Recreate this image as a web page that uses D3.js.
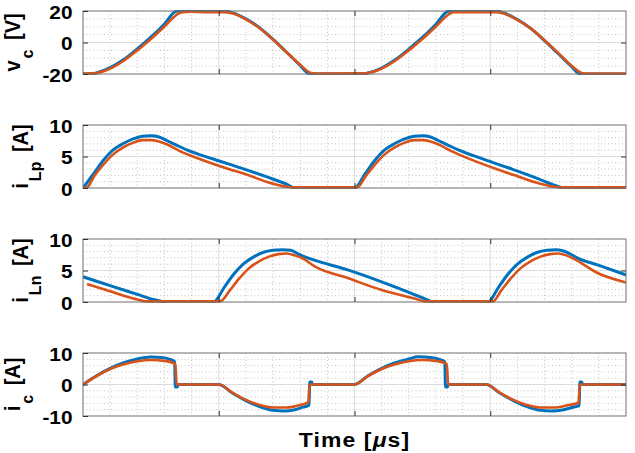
<!DOCTYPE html>
<html>
<head>
<meta charset="utf-8">
<script src="https://cdn.jsdelivr.net/npm/d3@7"></script>
<style>
body { margin: 0; background: #fff; }
text { font-family: "Liberation Sans", Arial, Helvetica, sans-serif; font-weight: bold; fill: #000; }
</style>
</head>
<body>
<svg id="chart" width="635" height="453"></svg>
<script>
// time axis has 4 major divisions and no tick labels
let timeDomain = [0, 4]
let timeMajor = [1, 2, 3]
let timeMinorStep = 0.2

let vcTicks = [-20, 0, 20]
let iLpTicks = [0, 5, 10]
let iLnTicks = [0, 5, 10]
let icTicks = [-10, 0, 10]

// [time, value]; blue = first series, orange = second
let vcBlue = [[0,-20],[0.06,-20],[0.1,-19.3],[0.2,-16],[0.3,-10.8],[0.4,-4],[0.5,3.4],[0.6,11.8],[0.68,19.6],[0.7,20],[1.04,20],[1.1,18.9],[1.2,15],[1.3,9.4],[1.4,2],[1.5,-6.2],[1.6,-14.6],[1.66,-19.6],[1.68,-20],[2.06,-20],[2.1,-19.4],[2.2,-16.2],[2.3,-11],[2.4,-4.2],[2.5,3.2],[2.6,11.6],[2.68,19.5],[2.7,20],[3.04,20],[3.1,18.7],[3.2,14.6],[3.3,8.8],[3.4,1.2],[3.5,-7],[3.6,-15.4],[3.65,-19.6],[3.67,-20],[4,-20]]
let vcOrange = [[0,-19.7],[0.08,-19.6],[0.1,-19.4],[0.2,-16.6],[0.3,-11.6],[0.4,-5],[0.5,2.2],[0.6,10.2],[0.7,18.2],[0.73,19.3],[0.8,19.5],[0.9,19.3],[1.04,19.3],[1.1,18.5],[1.2,14.7],[1.3,9.2],[1.4,1.9],[1.5,-6.2],[1.6,-14.2],[1.68,-19.4],[1.72,-19.7],[2.08,-19.6],[2.1,-19.4],[2.2,-16.6],[2.3,-11.6],[2.4,-5],[2.5,2.2],[2.6,10.2],[2.7,18.2],[2.73,19.3],[3.04,19.3],[3.1,18.4],[3.2,14.4],[3.3,8.8],[3.4,1.4],[3.5,-6.6],[3.6,-14.8],[3.68,-19.5],[3.72,-19.7],[4,-19.7]]

let iLpBlue = [[0,0],[0.08,2.3],[0.15,4.4],[0.22,6],[0.3,7.1],[0.37,7.8],[0.44,8.2],[0.5,8.3],[0.56,8.1],[0.62,7.5],[0.68,6.9],[0.76,6.1],[0.96,4.6],[1.16,3.2],[1.35,1.8],[1.5,0.6],[1.56,0],[2,0],[2.08,2.3],[2.15,4.4],[2.22,6],[2.3,7.1],[2.37,7.8],[2.44,8.2],[2.5,8.3],[2.56,8.1],[2.62,7.5],[2.68,6.9],[2.76,6.1],[2.96,4.5],[3.16,3],[3.35,1.5],[3.48,0.4],[3.54,0],[4,0]]
let iLpOrange = [[0,0],[0.03,0.1],[0.08,1.8],[0.15,3.7],[0.22,5.3],[0.3,6.5],[0.37,7.2],[0.44,7.6],[0.5,7.6],[0.56,7.4],[0.62,6.9],[0.71,5.9],[0.86,4.6],[1.06,3.1],[1.21,2.1],[1.35,1],[1.5,0.2],[1.55,0.1],[2.02,0.1],[2.08,1.8],[2.15,3.7],[2.22,5.3],[2.3,6.5],[2.37,7.2],[2.44,7.6],[2.5,7.6],[2.56,7.4],[2.62,6.9],[2.71,5.9],[2.86,4.5],[3.06,2.9],[3.21,1.8],[3.35,0.8],[3.47,0.2],[3.52,0.1],[4,0.1]]

let iLnBlue = [[0,4],[0.1,3.3],[0.2,2.6],[0.3,1.9],[0.4,1.2],[0.5,0.5],[0.59,0],[0.62,-0.3],[0.94,-0.3],[0.97,0],[1.04,2.3],[1.11,4.4],[1.18,6],[1.26,7.2],[1.33,7.9],[1.4,8.2],[1.47,8.3],[1.53,8.2],[1.58,7.7],[1.63,7.2],[1.71,6.6],[1.95,5.1],[2.2,3.2],[2.45,1.1],[2.57,0],[2.6,-0.3],[2.95,-0.3],[2.99,0],[3.06,2.3],[3.13,4.4],[3.2,6],[3.28,7.2],[3.35,7.9],[3.42,8.2],[3.48,8.3],[3.54,8.1],[3.6,7.5],[3.64,7],[3.79,5.9],[4,4.3]]
let iLnOrange = [[0.03,2.8],[0.1,2.4],[0.2,1.7],[0.3,1],[0.4,0.4],[0.47,0.1],[1,0.1],[1.02,0.2],[1.08,1.8],[1.15,3.7],[1.22,5.3],[1.3,6.5],[1.37,7.2],[1.44,7.6],[1.5,7.7],[1.56,7.4],[1.62,6.9],[1.71,5.6],[1.95,3.8],[2.2,1.9],[2.45,0.5],[2.52,0.1],[3.02,0.1],[3.08,1.8],[3.15,3.7],[3.22,5.3],[3.3,6.5],[3.37,7.2],[3.44,7.6],[3.5,7.7],[3.56,7.4],[3.62,6.8],[3.79,4.6],[4,3.1]]

let icBlue = [[0,0],[0.1,2.8],[0.2,5.1],[0.3,6.9],[0.4,8.1],[0.5,8.7],[0.58,8.6],[0.64,8],[0.675,7.2],[0.68,-0.8],[0.695,-0.8],[0.7,0],[1,0],[1.1,-2.7],[1.2,-5.1],[1.3,-7],[1.4,-8.2],[1.48,-8.4],[1.56,-8],[1.62,-7.2],[1.665,-6.6],[1.67,0.8],[1.685,0.8],[1.69,0],[2,0],[2.1,2.8],[2.2,5.1],[2.3,6.9],[2.4,8.1],[2.47,8.8],[2.56,8.6],[2.63,7.9],[2.665,7.2],[2.67,-0.8],[2.685,-0.8],[2.69,0],[2.97,0],[3.07,-2.7],[3.17,-5.1],[3.27,-7],[3.37,-8.2],[3.45,-8.4],[3.53,-8.1],[3.6,-7.3],[3.655,-6.7],[3.66,0.8],[3.675,0.8],[3.68,0],[4,0]]
let icOrange = [[0,0],[0.1,2.7],[0.2,4.9],[0.3,6.4],[0.4,7.4],[0.5,7.8],[0.6,7.5],[0.68,6.5],[0.69,0],[1,0],[1.1,-2.6],[1.2,-4.9],[1.3,-6.5],[1.4,-7.3],[1.5,-7.3],[1.6,-6.5],[1.66,-5.6],[1.67,0],[2,0],[2.1,2.7],[2.2,4.9],[2.3,6.4],[2.4,7.4],[2.5,7.8],[2.6,7.5],[2.68,6.5],[2.69,0],[2.97,0],[3.07,-2.6],[3.17,-4.9],[3.27,-6.5],[3.37,-7.3],[3.47,-7.3],[3.57,-6.6],[3.65,-5.8],[3.66,0],[4,0]]

let panels = [
    {id: "vc", blue: vcBlue, orange: vcOrange, ticks: vcTicks, minor: 5, main: "v", sub: "c", unit: " [V]", top: 11, bottom: 74, labelX: 19.5},
    {id: "ilp", blue: iLpBlue, orange: iLpOrange, ticks: iLpTicks, minor: 1, main: "i", sub: "Lp", unit: " [A]", top: 125, bottom: 188, labelX: 27.5},
    {id: "iln", blue: iLnBlue, orange: iLnOrange, ticks: iLnTicks, minor: 1, main: "i", sub: "Ln", unit: " [A]", top: 239, bottom: 302, labelX: 27.5},
    {id: "ic", blue: icBlue, orange: icOrange, ticks: icTicks, minor: 2, main: "i", sub: "c", unit: " [A]", top: 353, bottom: 416, labelX: 19.5}
]

let left = 83, right = 626
let sx = 1.12   // the reference text is a bit wide
let fontFam = "'Liberation Sans', Arial, Helvetica, sans-serif"
let svg = d3.select("#chart")
let xScale = d3.scaleLinear().domain(timeDomain).range([left, right])

let xMinor = d3.range(timeDomain[0] + timeMinorStep, timeDomain[1], timeMinorStep)
    .filter(t => Math.abs(t - Math.round(t)) > 1e-6)

panels.forEach(p => {
    let lo = p.ticks[0], hi = p.ticks[p.ticks.length - 1]
    let yScale = d3.scaleLinear().domain([lo, hi]).range([p.bottom, p.top])
    let g = svg.append("g").attr("id", "panel-" + p.id)

    // minor grid, dotted
    let yMinor = d3.range(lo + p.minor, hi, p.minor).filter(v => !p.ticks.includes(v))
    g.selectAll(".xminor").data(xMinor).enter().append("line")
        .attr("x1", d => xScale(d)).attr("x2", d => xScale(d))
        .attr("y1", p.top).attr("y2", p.bottom)
        .attr("stroke", "#c4c4c4").attr("stroke-dasharray", "1,2.5")
    g.selectAll(".yminor").data(yMinor).enter().append("line")
        .attr("x1", left).attr("x2", right)
        .attr("y1", d => yScale(d)).attr("y2", d => yScale(d))
        .attr("stroke", "#c4c4c4").attr("stroke-dasharray", "1,2.5")

    // major grid
    g.selectAll(".xmajor").data(timeMajor).enter().append("line")
        .attr("x1", d => xScale(d)).attr("x2", d => xScale(d))
        .attr("y1", p.top).attr("y2", p.bottom)
        .attr("stroke", "#dcdcdc")
    g.selectAll(".ymajor").data(p.ticks.slice(1, -1)).enter().append("line")
        .attr("x1", left).attr("x2", right)
        .attr("y1", d => yScale(d)).attr("y2", d => yScale(d))
        .attr("stroke", "#dcdcdc")

    // data lines, clipped to the axes box
    g.append("clipPath").attr("id", "clip-" + p.id)
        .append("rect").attr("x", left).attr("y", p.top - 1)
        .attr("width", right - left).attr("height", p.bottom - p.top + 2)
    let line = d3.line().x(d => xScale(d[0])).y(d => yScale(d[1])).curve(d3.curveMonotoneX)
    let lines = g.append("g").attr("clip-path", "url(#clip-" + p.id + ")")
    lines.append("path").datum(p.blue).attr("d", line)
        .attr("fill", "none").attr("stroke", "#0072BD").attr("stroke-width", 3)
        .attr("stroke-linejoin", "round")
    lines.append("path").datum(p.orange).attr("d", line)
        .attr("fill", "none").attr("stroke", "#D95319").attr("stroke-width", 2.6)
        .attr("stroke-linejoin", "round")

    // box + inward ticks on all four sides
    g.append("rect").attr("x", left).attr("y", p.top)
        .attr("width", right - left).attr("height", p.bottom - p.top)
        .attr("fill", "none").attr("stroke", "#6e6e6e")

    let yAxis = g.append("g").attr("transform", "translate(" + left + ",0)")
        .call(d3.axisLeft(yScale).tickValues(p.ticks).tickSizeInner(-5).tickSizeOuter(0)
            .tickPadding(9.4).tickFormat(d => String(d)))
    yAxis.attr("font-family", fontFam)
    yAxis.select(".domain").remove()
    yAxis.selectAll("line").attr("stroke", "#333")
    yAxis.selectAll("text")
        .attr("font-size", "18.6px").attr("dy", "0.4em")
        .attr("transform", "scale(" + sx + ",1)")

    let yRight = g.append("g").attr("transform", "translate(" + right + ",0)")
        .call(d3.axisRight(yScale).tickValues(p.ticks.slice(1, -1)).tickSizeInner(-5).tickSizeOuter(0).tickFormat(""))
    yRight.select(".domain").remove()
    yRight.selectAll("line").attr("stroke", "#333")

    let xTop = g.append("g").attr("transform", "translate(0," + p.top + ")")
        .call(d3.axisTop(xScale).tickValues(timeMajor).tickSizeInner(-5).tickSizeOuter(0).tickFormat(""))
    let xBot = g.append("g").attr("transform", "translate(0," + p.bottom + ")")
        .call(d3.axisBottom(xScale).tickValues(timeMajor).tickSizeInner(-5).tickSizeOuter(0).tickFormat(""))
    xTop.select(".domain").remove()
    xBot.select(".domain").remove()
    xTop.selectAll("line").attr("stroke", "#333")
    xBot.selectAll("line").attr("stroke", "#333")

    // rotated y label with subscript
    let cy = (p.top + p.bottom) / 2
    let lab = g.append("text")
        .attr("transform", "translate(" + p.labelX + "," + cy + ") scale(1.08,1) rotate(-90)")
        .attr("text-anchor", "middle")
        .attr("font-family", fontFam)
        .attr("font-size", "20px")
    lab.append("tspan").text(p.main)
    lab.append("tspan").attr("font-size", "16px").attr("dx", 2).attr("dy", 12.5).text(p.sub)
    lab.append("tspan").attr("dx", 4).attr("dy", -12.5).text(p.unit)
})

svg.append("text")
    .attr("transform", "translate(" + ((left + right) / 2) + ",447) scale(" + sx + ",1)")
    .attr("text-anchor", "middle")
    .attr("font-family", fontFam)
    .attr("font-size", "20.5px")
    .attr("letter-spacing", "1px")
    .html("Time [<tspan font-style=\"italic\">μ</tspan>s]")
</script>
</body>
</html>
